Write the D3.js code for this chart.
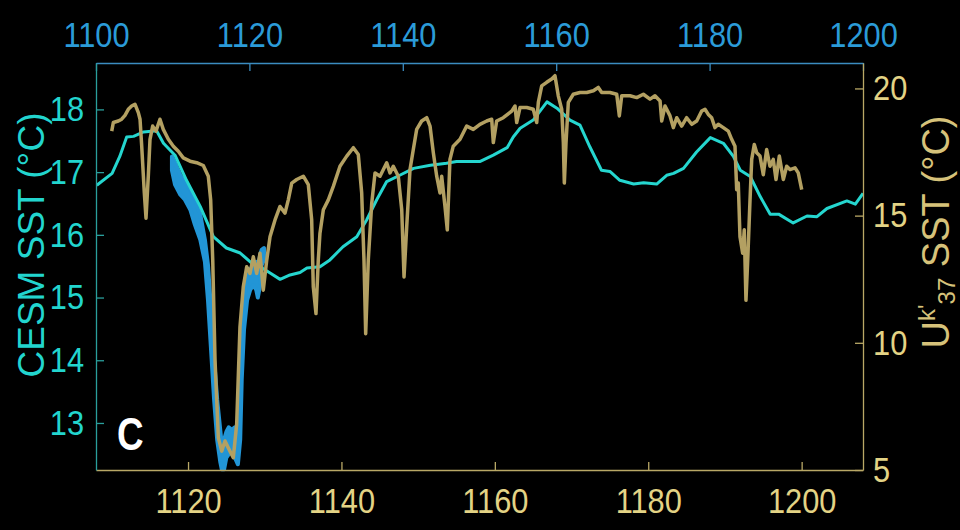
<!DOCTYPE html>
<html><head><meta charset="utf-8">
<script src="https://cdn.jsdelivr.net/npm/d3@7"></script>
<style>
html,body{margin:0;padding:0;background:#000;}
svg{display:block;}
.tick text{font-family:"Liberation Sans",Arial,sans-serif;font-size:35px;}
</style></head>
<body><svg id="c" width="960" height="530"></svg>
<script>
// ---- data ----
// CESM SST (top x axis, left y axis)
const cesmYears = [1100.1,1102.1,1103.1,1104.0,1104.9,1106.2,1107.9,1108.8,1110.3,1111.8,1113.6,1115.3,1117.0,1118.8,1120.3,1121.4,1122.7,1124.0,1125.3,1126.6,1127.5,1129.2,1130.5,1132.2,1134.0,1135.3,1136.6,1137.9,1139.6,1141.4,1143.6,1145.7,1147.0,1150.1,1151.8,1153.6,1154.4,1155.3,1157.0,1158.8,1160.1,1161.8,1163.1,1164.4,1165.9,1167.0,1168.3,1170.1,1171.4,1173.1,1174.4,1175.3,1176.6,1178.3,1180.1,1181.8,1183.1,1184.0,1185.3,1186.6,1187.9,1189.0,1190.9,1192.7,1194.0,1195.3,1197.9,1199.0,1200.0];
const cesmSST = [16.79,16.98,17.25,17.56,17.57,17.64,17.66,17.46,17.27,16.87,16.45,15.97,15.79,15.71,15.55,15.49,15.39,15.29,15.36,15.40,15.47,15.49,15.60,15.81,15.97,16.24,16.56,16.85,16.95,17.06,17.11,17.14,17.17,17.17,17.27,17.39,17.56,17.70,17.83,18.12,18.02,17.83,17.75,17.40,17.03,17.01,16.87,16.81,16.83,16.81,16.95,16.98,17.06,17.32,17.55,17.46,17.25,17.03,16.93,16.61,16.33,16.33,16.19,16.30,16.29,16.42,16.54,16.49,16.66];

// Blue ensemble band (top x axis, left y axis)
const bandYears = [1109.9,1110.3,1111.0,1111.6,1112.3,1112.9,1113.6,1114.2,1114.6,1115.0,1115.4,1115.8,1116.2,1116.4,1116.7,1117.0,1117.3,1117.7,1118.1,1118.5,1118.8,1119.0,1119.3,1119.7,1120.1,1120.5,1120.9,1121.1,1121.4,1121.6,1121.9];
const bandHigh = [17.25,17.15,16.95,16.84,16.72,16.56,16.32,15.92,15.52,14.80,14.01,13.37,12.89,12.65,12.73,12.86,12.93,12.89,12.93,12.81,13.37,14.33,14.96,15.28,15.44,15.52,15.57,15.44,15.68,15.76,15.79];
const bandLow  = [17.03,16.80,16.64,16.56,16.40,16.16,15.92,15.57,14.96,14.17,13.37,12.73,12.38,12.26,12.26,12.45,12.50,12.58,12.45,12.34,12.73,13.69,14.49,14.96,15.12,15.20,15.12,15.00,15.20,15.52,15.60];

// Uk'37 SST (bottom x axis, right y axis)
const ukYears = [1110.05,1110.26,1110.91,1111.35,1111.78,1112.21,1112.65,1113.08,1113.52,1113.74,1113.96,1114.30,1114.52,1114.82,1115.04,1115.39,1115.82,1116.34,1116.77,1117.43,1118.08,1118.73,1119.38,1120.26,1121.13,1121.99,1122.64,1122.95,1123.22,1123.52,1123.95,1124.39,1124.82,1125.25,1125.90,1126.34,1126.77,1127.20,1127.65,1128.08,1128.51,1128.95,1129.38,1129.81,1130.26,1130.69,1131.34,1131.99,1132.64,1133.07,1133.52,1134.17,1135.03,1135.68,1136.12,1136.33,1136.68,1136.98,1137.20,1137.64,1138.29,1138.94,1139.81,1140.69,1141.55,1142.20,1142.64,1142.94,1143.16,1143.50,1143.95,1144.38,1145.03,1145.90,1146.33,1146.76,1147.41,1147.86,1148.16,1148.51,1148.94,1149.37,1149.81,1150.46,1151.12,1151.55,1151.98,1152.42,1152.85,1153.07,1153.50,1153.80,1154.15,1154.58,1155.46,1156.33,1157.19,1158.06,1158.94,1159.59,1159.80,1160.24,1161.10,1162.20,1162.63,1162.85,1163.28,1164.15,1165.01,1165.46,1165.67,1166.11,1166.76,1167.41,1167.84,1168.27,1168.72,1168.93,1169.06,1169.28,1169.58,1170.23,1171.10,1171.98,1172.84,1173.49,1173.93,1175.01,1175.89,1176.23,1176.54,1177.62,1178.50,1179.36,1180.23,1180.88,1181.54,1181.76,1182.19,1182.84,1183.27,1183.71,1184.36,1185.01,1185.67,1186.32,1186.97,1187.40,1187.83,1188.27,1188.70,1189.13,1189.79,1190.44,1190.88,1191.31,1191.53,1191.74,1191.96,1192.31,1192.52,1192.74,1192.97,1193.27,1193.49,1193.83,1194.14,1194.57,1195.00,1195.44,1195.87,1196.30,1196.66,1197.09,1197.61,1198.05,1198.48,1199.13,1199.56,1200.01];
const ukSST = [18.32,18.66,18.72,18.79,18.94,19.18,19.31,19.38,19.05,18.79,17.73,15.89,14.90,16.55,18.00,18.52,18.32,18.79,18.39,18.00,17.73,17.53,17.27,17.14,17.08,16.97,16.55,15.62,13.25,9.30,6.27,5.74,6.14,5.87,5.48,6.80,10.62,12.20,12.99,12.73,13.38,12.73,13.52,12.07,13.25,14.17,14.83,15.36,15.10,15.62,16.28,16.42,16.55,16.22,14.83,12.20,11.15,13.25,14.31,15.23,15.62,16.15,16.94,17.34,17.67,17.40,15.89,13.25,10.36,13.25,15.49,16.68,16.55,17.08,16.68,16.94,16.55,15.23,12.59,14.57,16.81,17.60,18.39,18.72,18.85,18.52,17.47,16.55,15.89,16.55,15.36,14.44,17.21,17.73,18.00,18.52,18.39,18.59,18.72,18.79,17.87,18.72,18.85,19.11,19.31,18.66,19.25,19.25,19.18,18.66,19.45,20.10,20.24,20.37,20.50,19.71,19.18,17.87,16.28,17.87,19.45,19.77,19.84,19.84,19.91,20.04,19.84,19.84,19.77,18.92,19.71,19.71,19.64,19.77,19.58,19.71,19.51,18.72,19.31,18.92,18.46,18.85,18.52,18.85,18.59,18.72,19.11,19.18,18.98,18.85,18.46,18.59,18.46,18.32,18.00,17.73,16.02,16.28,14.17,13.52,14.44,11.67,13.25,15.62,17.21,17.80,17.47,17.34,16.61,17.60,16.94,17.21,16.42,17.34,16.42,16.94,16.81,16.88,16.68,16.02];

// tick labels
const topTicks = [1100,1120,1140,1160,1180,1200];
const bottomTicks = [1120,1140,1160,1180,1200];
const leftTicks = [13,14,15,16,17,18];
const rightTicks = [5,10,15,20];

// ---- layout ----
const L = 96, R = 863, T = 63, B = 470;
const svg = d3.select("#c");
svg.append("rect").attr("width",960).attr("height",530).attr("fill","#000");

const xTop = d3.scaleLinear().domain([1100,1200]).range([L,R]);
const xBot = d3.scaleLinear().domain([1108,1208]).range([L,R]);
const yLeft = d3.scaleLinear().domain([12.25,18.74]).range([B,T]);
const yRight = d3.scaleLinear().domain([5,21]).range([B,T]);

const colCyan = "#25d6cf", colBlue = "#2295d6", colGold = "#b3a062";
const colTopTxt = "#2b9bd8", colLeftTxt = "#22d5ce", colKhakiTxt = "#e3d385", colRightLbl = "#d6c27a";

// blue band
const band = bandYears.map((y,i)=>({x:y,h:bandHigh[i],l:bandLow[i]}));
const plot = svg.append("g");
plot.append("path").datum(band)
  .attr("d", d3.area().x(d=>xTop(d.x)).y0(d=>yLeft(d.l)).y1(d=>yLeft(d.h)))
  .attr("fill", colBlue).attr("stroke", colBlue).attr("stroke-width", 4).attr("stroke-linejoin","round");

// cyan CESM line
plot.append("path").datum(cesmYears.map((y,i)=>[y,cesmSST[i]]))
  .attr("d", d3.line().x(d=>xTop(d[0])).y(d=>yLeft(d[1])))
  .attr("fill","none").attr("stroke",colCyan).attr("stroke-width",3).attr("stroke-linejoin","round");

// gold Uk37 line
plot.append("path").datum(ukYears.map((y,i)=>[y,ukSST[i]]))
  .attr("d", d3.line().x(d=>xBot(d[0])).y(d=>yRight(d[1])))
  .attr("fill","none").attr("stroke",colGold).attr("stroke-width",3.5).attr("stroke-linejoin","round");

// ---- axes ----
function narrow(sel, f){
  sel.each(function(){
    const w = this.getComputedTextLength();
    d3.select(this).attr("textLength", w*f).attr("lengthAdjust","spacingAndGlyphs");
  });
}
function style(g, lineCol, txtCol){
  g.select(".domain").attr("stroke", lineCol).attr("stroke-width",1.3);
  g.selectAll(".tick line").attr("stroke", lineCol).attr("stroke-width",1.3);
  g.selectAll(".tick text").attr("fill", txtCol);
  narrow(g.selectAll(".tick text"), 0.88);
}
const gTop = svg.append("g").attr("transform",`translate(0,${T})`)
  .call(d3.axisTop(xTop).tickValues(topTicks).tickFormat(d3.format("d")).tickSize(-8).tickSizeOuter(0).tickPadding(16));
style(gTop, "#3b8cc0", colTopTxt);
const gBot = svg.append("g").attr("transform",`translate(0,${B})`)
  .call(d3.axisBottom(xBot).tickValues(bottomTicks).tickFormat(d3.format("d")).tickSize(-8).tickSizeOuter(0).tickPadding(18));
style(gBot, "#b9a866", colKhakiTxt);
const gLeft = svg.append("g").attr("transform",`translate(${L},0)`)
  .call(d3.axisLeft(yLeft).tickValues(leftTicks).tickFormat(d3.format("d")).tickSize(-8).tickSizeOuter(0).tickPadding(12));
style(gLeft, "#2a9f9c", colLeftTxt);
const gRight = svg.append("g").attr("transform",`translate(${R},0)`)
  .call(d3.axisRight(yRight).tickValues(rightTicks).tickFormat(d3.format("d")).tickSize(-8).tickSizeOuter(0).tickPadding(10));
style(gRight, "#b9a866", colKhakiTxt);

// ---- labels ----
svg.append("text").attr("transform","translate(44,245) rotate(-90)")
  .attr("text-anchor","middle").attr("fill",colLeftTxt)
  .attr("font-family","'Liberation Sans',Arial,sans-serif").attr("font-size",37)
  .text("CESM SST (°C)");

const rl = svg.append("text").attr("transform","translate(949,232) rotate(-90)")
  .attr("text-anchor","middle").attr("fill",colRightLbl)
  .attr("font-family","'Liberation Sans',Arial,sans-serif").attr("font-size",38);
rl.append("tspan").text("U");
rl.append("tspan").attr("font-size",24).attr("dy",-14).text("k'");
rl.append("tspan").attr("font-size",24).attr("dy",20).text("37");
rl.append("tspan").attr("dy",-6).text(" SST (°C)");

const cl = svg.append("text").attr("x",117).attr("y",450).attr("fill","#fff")
  .attr("font-family","'Liberation Sans',Arial,sans-serif")
  .attr("font-weight","bold").attr("font-size",46).text("C");
narrow(cl, 0.8);
</script></body></html>
